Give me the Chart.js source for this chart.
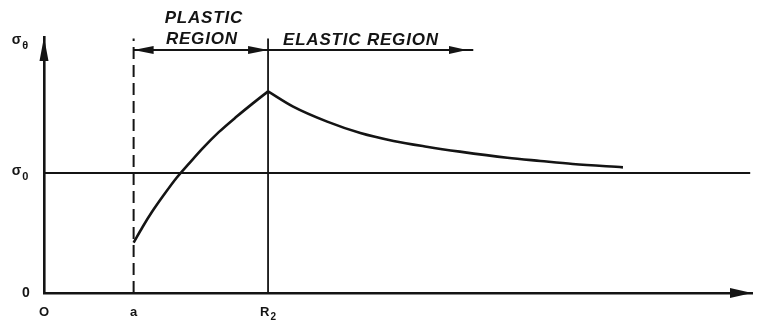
<!DOCTYPE html>
<html>
<head>
<meta charset="utf-8">
<script src="https://cdn.jsdelivr.net/npm/chart.js@4.4.1/dist/chart.umd.min.js"></script>
<style>
  html, body { margin: 0; padding: 0; background: #fff; }
  #wrap { width: 761px; height: 325px; }
</style>
</head>
<body>
<div id="wrap"><canvas id="stressChart"></canvas></div>
<script>
// radius in units of the bore a, hoop stress in units of sigma_0
const xTickValues = [0, 1, 2.5];
const xTickLabels = [['O', ''], ['a', ''], ['R', '2']];
const yTickValues = [0, 1, 2.09];
const yTickLabels = [['0', ''], ['σ', '0'], ['σ', 'θ']];

const plasticR = [1.0, 1.1, 1.2, 1.34, 1.48, 1.62, 1.77, 1.95, 2.15, 2.33, 2.5];
const plasticStress = [0.42, 0.55, 0.67, 0.82, 0.96, 1.08, 1.205, 1.34, 1.47, 1.58, 1.68];
const elasticR = [2.5, 2.78, 3.16, 3.53, 3.9, 4.27, 4.64, 5.17, 5.54, 5.9, 6.46];
const elasticStress = [1.68, 1.553, 1.428, 1.333, 1.267, 1.219, 1.178, 1.127, 1.1, 1.075, 1.047];

const yieldStress = 1;
const yieldLineEnd = 7.88;
const radiusA = 1;
const radiusR2 = 2.5;
const boundaryTop = 2.12;
const regionArrowLevel = 2.025;
const elasticArrowEnd = 4.79;
const elasticArrowTip = 4.72;
const xMax = 7.9;
const yMax = 2.133;

const ink = '#141414';

function pts(xs, ys) {
  return xs.map((x, i) => ({ x: x, y: ys[i] }));
}

function segment(x0, y0, x1, y1, width, dash) {
  return {
    data: [{ x: x0, y: y0 }, { x: x1, y: y1 }],
    borderColor: ink,
    borderWidth: width,
    borderDash: dash || [],
    pointRadius: 0,
    tension: 0
  };
}

function curve(xs, ys) {
  return {
    data: pts(xs, ys),
    borderColor: ink,
    borderWidth: 2.6,
    pointRadius: 0,
    cubicInterpolationMode: 'monotone'
  };
}

// filled arrow heads at the ends of the axes and region markers
const arrowHeads = {
  id: 'arrowHeads',
  afterDatasetsDraw(chart) {
    const { ctx, scales: { x, y } } = chart;
    const heads = [
      { x: xMax, y: 0, dir: 'right', len: 22, half: 5 },
      { x: 0, y: yMax, dir: 'up', len: 24, half: 4.5 },
      { x: radiusA, y: regionArrowLevel, dir: 'left', len: 20, half: 4 },
      { x: radiusR2, y: regionArrowLevel, dir: 'right', len: 20, half: 4 },
      { x: elasticArrowTip, y: regionArrowLevel, dir: 'right', len: 18, half: 4 }
    ];
    ctx.save();
    ctx.fillStyle = ink;
    heads.forEach(h => {
      const px = x.getPixelForValue(h.x);
      const py = y.getPixelForValue(h.y);
      ctx.beginPath();
      if (h.dir === 'right') {
        ctx.moveTo(px, py);
        ctx.lineTo(px - h.len, py - h.half);
        ctx.lineTo(px - h.len, py + h.half);
      } else if (h.dir === 'left') {
        ctx.moveTo(px, py);
        ctx.lineTo(px + h.len, py - h.half);
        ctx.lineTo(px + h.len, py + h.half);
      } else {
        ctx.moveTo(px, py);
        ctx.lineTo(px - h.half, py + h.len);
        ctx.lineTo(px + h.half, py + h.len);
      }
      ctx.closePath();
      ctx.fill();
    });
    ctx.restore();
  }
};

function drawSubscripted(ctx, main, sub, cx, cy, size) {
  ctx.font = 'bold ' + size + 'px "Liberation Sans", Arial, sans-serif';
  const w1 = ctx.measureText(main).width;
  ctx.font = 'bold ' + Math.round(size * 0.8) + 'px "Liberation Sans", Arial, sans-serif';
  const w2 = sub ? ctx.measureText(sub).width + 1 : 0;
  const left = cx - (w1 + w2) / 2;
  ctx.textAlign = 'left';
  ctx.textBaseline = 'middle';
  ctx.font = 'bold ' + size + 'px "Liberation Sans", Arial, sans-serif';
  ctx.fillText(main, left, cy);
  if (sub) {
    ctx.font = 'bold ' + Math.round(size * 0.8) + 'px "Liberation Sans", Arial, sans-serif';
    ctx.fillText(sub, left + w1 + 1, cy + size * 0.4);
  }
}

// tick labels and region captions, placed from the scales
const diagramText = {
  id: 'diagramText',
  afterDraw(chart) {
    const { ctx, scales: { x, y } } = chart;
    ctx.save();
    ctx.fillStyle = ink;
    const axisY = y.getPixelForValue(0);
    xTickValues.forEach((v, i) => {
      drawSubscripted(ctx, xTickLabels[i][0], xTickLabels[i][1], x.getPixelForValue(v), axisY + 19, 13);
    });
    const axisX = x.getPixelForValue(0);
    yTickValues.forEach((v, i) => {
      const lab = yTickLabels[i];
      drawSubscripted(ctx, lab[0], lab[1], axisX - (lab[1] ? 24 : 18), y.getPixelForValue(v) - (lab[1] ? 2 : 0), 14);
    });

    ctx.font = 'bold italic 17px "Liberation Sans", Arial, sans-serif';
    ctx.letterSpacing = '0.8px';
    ctx.textBaseline = 'alphabetic';
    const arrowY = y.getPixelForValue(regionArrowLevel);
    const plasticMid = (x.getPixelForValue(radiusA) + x.getPixelForValue(radiusR2)) / 2;
    ctx.textAlign = 'center';
    ctx.fillText('PLASTIC', plasticMid + 3, arrowY - 27);
    ctx.fillText('REGION', plasticMid + 1, arrowY - 6);
    ctx.textAlign = 'left';
    ctx.fillText('ELASTIC REGION', x.getPixelForValue(radiusR2) + 15, arrowY - 5);
    ctx.restore();
  }
};

new Chart(document.getElementById('stressChart'), {
  type: 'line',
  data: {
    datasets: [
      curve(plasticR, plasticStress),
      curve(elasticR, elasticStress),
      segment(0, yieldStress, yieldLineEnd, yieldStress, 1.8),
      segment(radiusA, 0, radiusA, boundaryTop, 2, [12, 6]),
      segment(radiusR2, 0, radiusR2, boundaryTop, 1.8),
      segment(radiusA, regionArrowLevel, radiusR2, regionArrowLevel, 2),
      segment(radiusR2, regionArrowLevel, elasticArrowEnd, regionArrowLevel, 2)
    ]
  },
  options: {
    responsive: true,
    maintainAspectRatio: false,
    animation: false,
    clip: false,
    layout: { padding: { left: 44, top: 37, right: 9, bottom: 32 } },
    plugins: { legend: { display: false }, tooltip: { enabled: false } },
    scales: {
      x: {
        type: 'linear',
        min: 0,
        max: xMax,
        grid: { display: false, drawTicks: false },
        ticks: { display: false },
        border: { display: true, color: ink, width: 2.6 }
      },
      y: {
        type: 'linear',
        min: 0,
        max: yMax,
        grid: { display: false, drawTicks: false },
        ticks: { display: false },
        border: { display: true, color: ink, width: 2.6 }
      }
    }
  },
  plugins: [arrowHeads, diagramText]
});
</script>
</body>
</html>
